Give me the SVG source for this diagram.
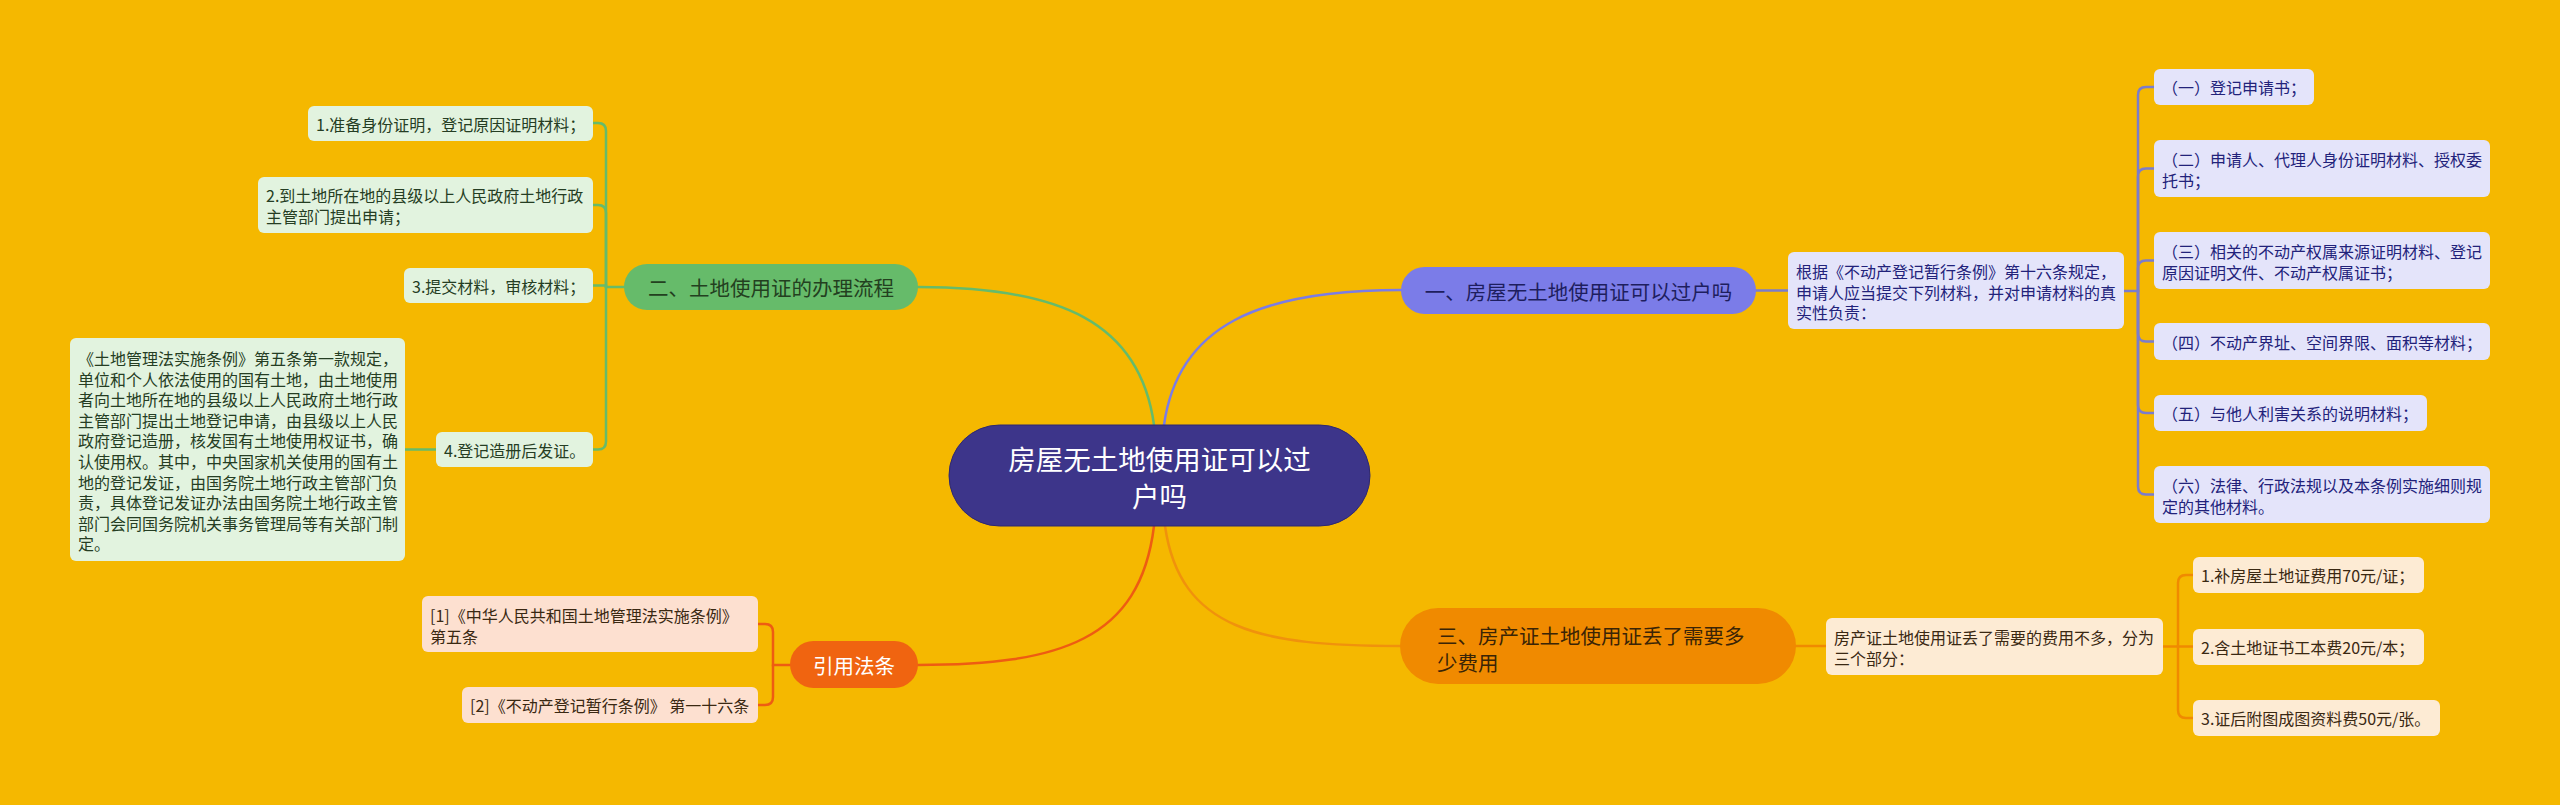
<svg xmlns="http://www.w3.org/2000/svg" width="2560" height="805" viewBox="0 0 2560 805">
<style>
text{font-family:"Noto Sans CJK SC","Noto Sans",sans-serif;dominant-baseline:central}
.t16{font-size:16px}
.br{font-size:20.5px}
.lv{fill:#e4e4fa}
.lvt{fill:#22227a}
.gr{fill:#e2f3df}
.grt{fill:#253d23}
.pe{fill:#fdebd4}
.pet{fill:#3a2812}
.pk{fill:#fde0d0}
.c{fill:none;stroke-width:2.5;stroke-linecap:round}
</style>
<rect width="2560" height="805" fill="#f5b800"/>
<g id="connectors">
<path class="c" stroke="#66bb6a" d="M1154,425 C1140,322 1060,287 918,287"/>
<path class="c" stroke="#7b7ce6" d="M1164,425 C1178,325 1260,290 1401,290"/>
<path class="c" stroke="#ee5c12" stroke-width="3" d="M1154,526 C1140,640 1060,665 918,665"/>
<path class="c" stroke="#f0920c" d="M1165,526 C1180,630 1260,646 1400,646"/>
<g stroke="#7b7ccc" class="c">
<path d="M1756,290.5 H1788"/>
<path d="M2124,291 H2138 V95 Q2138,87 2146,87 H2154"/>
<path d="M2138,291 V176.5 Q2138,168.5 2146,168.5 H2154"/>
<path d="M2138,291 V268.5 Q2138,260.5 2146,260.5 H2154"/>
<path d="M2138,291 V333.5 Q2138,341.5 2146,341.5 H2154"/>
<path d="M2138,291 V405 Q2138,413 2146,413 H2154"/>
<path d="M2138,291 V486.5 Q2138,494.5 2146,494.5 H2154"/>
</g>
<g stroke="#f08a00" class="c">
<path d="M1796,646 H1826"/>
<path d="M2163,646.5 H2178 V583 Q2178,575 2186,575 H2193"/>
<path d="M2178,646.5 H2193"/>
<path d="M2178,646.5 V710 Q2178,718 2186,718 H2193"/>
</g>
<g stroke="#66bb6a" class="c">
<path d="M624,287 H606 V131 Q606,123 598,123 H593"/>
<path d="M606,287 V213 Q606,205 598,205 H593"/>
<path d="M606,287 V285.5 H593"/>
<path d="M606,287 V441.5 Q606,449.5 598,449.5 H593"/>
<path d="M436,449.5 H405"/>
</g>
<g stroke="#ee5c12" class="c">
<path d="M790,665 H773 V632 Q773,624 765,624 H758"/>
<path d="M773,665 V697 Q773,705 765,705 H758"/>
</g>
</g>
<g id="root">
<rect x="949" y="425" width="421" height="101" rx="50.5" fill="#3d358a" stroke="#2e2870" stroke-width="1"/>
<text x="1159.5" y="458" font-size="27.5" fill="#ffffff" text-anchor="middle">房屋无土地使用证可以过</text>
<text x="1159.5" y="495" font-size="27.5" fill="#ffffff" text-anchor="middle">户吗</text>
</g>
<g id="branch1">
<rect x="1401" y="267" width="355" height="47" rx="23.5" fill="#7b7ce8"/>
<text class="br" x="1578.5" y="290.5" fill="#1e1e5e" text-anchor="middle">一、房屋无土地使用证可以过户吗</text>
</g>
<g id="b1-detail">
<rect class="lv" x="1788" y="252" width="336" height="77" rx="6"/>
<text class="t16 lvt" x="1796" y="271">根据《不动产登记暂行条例》第十六条规定，</text>
<text class="t16 lvt" x="1796" y="291.5">申请人应当提交下列材料，并对申请材料的真</text>
<text class="t16 lvt" x="1796" y="312">实性负责：</text>
</g>
<g id="b1-1">
<rect class="lv" x="2154" y="69" width="160" height="36" rx="6"/>
<text class="t16 lvt" x="2162" y="87">（一）登记申请书；</text>
</g>
<g id="b1-2">
<rect class="lv" x="2154" y="140" width="336" height="57" rx="6"/>
<text class="t16 lvt" x="2162" y="159">（二）申请人、代理人身份证明材料、授权委</text>
<text class="t16 lvt" x="2162" y="179.5">托书；</text>
</g>
<g id="b1-3">
<rect class="lv" x="2154" y="232" width="336" height="57" rx="6"/>
<text class="t16 lvt" x="2162" y="251">（三）相关的不动产权属来源证明材料、登记</text>
<text class="t16 lvt" x="2162" y="271.5">原因证明文件、不动产权属证书；</text>
</g>
<g id="b1-4">
<rect class="lv" x="2154" y="323" width="336" height="37" rx="6"/>
<text class="t16 lvt" x="2162" y="341.5">（四）不动产界址、空间界限、面积等材料；</text>
</g>
<g id="b1-5">
<rect class="lv" x="2154" y="395" width="273" height="36" rx="6"/>
<text class="t16 lvt" x="2162" y="413">（五）与他人利害关系的说明材料；</text>
</g>
<g id="b1-6">
<rect class="lv" x="2154" y="466" width="336" height="57" rx="6"/>
<text class="t16 lvt" x="2162" y="485">（六）法律、行政法规以及本条例实施细则规</text>
<text class="t16 lvt" x="2162" y="505.5">定的其他材料。</text>
</g>
<g id="branch3">
<rect x="1400" y="608" width="396" height="76" rx="38" fill="#f08a00"/>
<text class="br" x="1437" y="634.5" fill="#3a2406">三、房产证土地使用证丢了需要多</text>
<text class="br" x="1437" y="661.5" fill="#3a2406">少费用</text>
</g>
<g id="b3-detail">
<rect class="pe" x="1826" y="618" width="337" height="57" rx="6"/>
<text class="t16 pet" x="1834" y="637">房产证土地使用证丢了需要的费用不多，分为</text>
<text class="t16 pet" x="1834" y="657.5">三个部分：</text>
</g>
<g id="b3-1">
<rect class="pe" x="2193" y="557" width="231" height="36" rx="6"/>
<text class="t16 pet" x="2201" y="575">1.补房屋土地证费用70元/证；</text>
</g>
<g id="b3-2">
<rect class="pe" x="2193" y="629" width="231" height="36" rx="6"/>
<text class="t16 pet" x="2201" y="647">2.含土地证书工本费20元/本；</text>
</g>
<g id="b3-3">
<rect class="pe" x="2193" y="700" width="247" height="36" rx="6"/>
<text class="t16 pet" x="2201" y="718">3.证后附图成图资料费50元/张。</text>
</g>
<g id="branch2">
<rect x="624" y="264" width="294" height="46" rx="23" fill="#66bb6a"/>
<text class="br" x="771" y="287" fill="#23401f" text-anchor="middle">二、土地使用证的办理流程</text>
</g>
<g id="b2-1">
<rect class="gr" x="308" y="106" width="285" height="35" rx="6"/>
<text class="t16 grt" x="316" y="123.5">1.准备身份证明，登记原因证明材料；</text>
</g>
<g id="b2-2">
<rect class="gr" x="258" y="177" width="335" height="56" rx="6"/>
<text class="t16 grt" x="266" y="195">2.到土地所在地的县级以上人民政府土地行政</text>
<text class="t16 grt" x="266" y="215.5">主管部门提出申请；</text>
</g>
<g id="b2-3">
<rect class="gr" x="404" y="268" width="189" height="35" rx="6"/>
<text class="t16 grt" x="412" y="285.5">3.提交材料，审核材料；</text>
</g>
<g id="b2-4">
<rect class="gr" x="436" y="432" width="157" height="35" rx="6"/>
<text class="t16 grt" x="444" y="449.5">4.登记造册后发证。</text>
</g>
<g id="b2-4-detail">
<rect class="gr" x="70" y="338" width="335" height="223" rx="6"/>
<text class="t16 grt" x="78" y="358">《土地管理法实施条例》第五条第一款规定，</text>
<text class="t16 grt" x="78" y="378.6">单位和个人依法使用的国有土地，由土地使用</text>
<text class="t16 grt" x="78" y="399.2">者向土地所在地的县级以上人民政府土地行政</text>
<text class="t16 grt" x="78" y="419.8">主管部门提出土地登记申请，由县级以上人民</text>
<text class="t16 grt" x="78" y="440.4">政府登记造册，核发国有土地使用权证书，确</text>
<text class="t16 grt" x="78" y="461">认使用权。其中，中央国家机关使用的国有土</text>
<text class="t16 grt" x="78" y="481.6">地的登记发证，由国务院土地行政主管部门负</text>
<text class="t16 grt" x="78" y="502.2">责，具体登记发证办法由国务院土地行政主管</text>
<text class="t16 grt" x="78" y="522.8">部门会同国务院机关事务管理局等有关部门制</text>
<text class="t16 grt" x="78" y="543.4">定。</text>
</g>
<g id="branch4">
<rect x="790" y="641" width="128" height="47" rx="23.5" fill="#f06410"/>
<text class="br" x="854" y="664.5" fill="#ffffff" text-anchor="middle">引用法条</text>
</g>
<g id="b4-1">
<rect class="pk" x="422" y="596" width="336" height="56" rx="6"/>
<text class="t16 pet" x="430" y="615">[1]《中华人民共和国土地管理法实施条例》</text>
<text class="t16 pet" x="430" y="635.5">第五条</text>
</g>
<g id="b4-2">
<rect class="pk" x="462" y="687" width="296" height="36" rx="6"/>
<text class="t16 pet" x="470" y="705">[2]《不动产登记暂行条例》 第一十六条</text>
</g>
</svg>
